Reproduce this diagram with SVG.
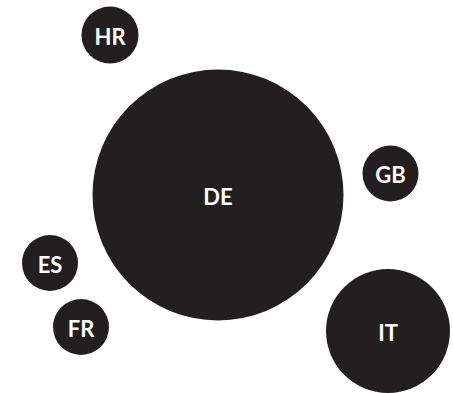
<svg xmlns="http://www.w3.org/2000/svg" width="453" height="393" viewBox="0 0 453 393">
<style>
.b{fill:#231f20}
.t{fill:#ffffff;font-family:Lato,"Liberation Sans",sans-serif;font-weight:bold;font-size:22px;text-anchor:middle;dominant-baseline:central}
</style>
<rect width="453" height="393" fill="#ffffff"/>
<g id="connectors"></g>
<g id="DE"><circle class="b" cx="218" cy="195" r="125.5"/><text class="t" x="218" y="196">DE</text></g>
<g id="HR"><circle class="b" cx="110" cy="35" r="28.5"/><text class="t" x="110" y="36">HR</text></g>
<g id="GB"><circle class="b" cx="390.5" cy="173.5" r="28"/><text class="t" x="390.5" y="174">GB</text></g>
<g id="ES"><circle class="b" cx="50" cy="263" r="28"/><text class="t" x="50" y="264">ES</text></g>
<g id="FR"><circle class="b" cx="81" cy="327" r="28"/><text class="t" x="81" y="328">FR</text></g>
<g id="IT"><circle class="b" cx="388" cy="331" r="62"/><text class="t" x="388" y="332">IT</text></g>
</svg>
